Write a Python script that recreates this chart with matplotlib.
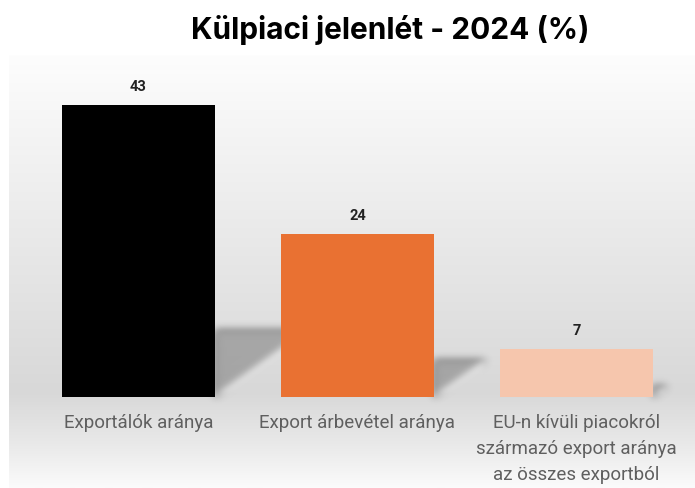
import numpy as np
import matplotlib
matplotlib.use("Agg")
import matplotlib.pyplot as plt
from matplotlib.colors import LinearSegmentedColormap

# adatok
categories = ["Exportálók aránya",
              "Export árbevétel aránya",
              "EU-n kívüli piacokról\nszármazó export aránya\naz összes exportból"]
values = [43, 24, 7]
colors = ["#000000", "#E97132", "#F6C6AD"]

W, H = 695, 488
fig = plt.figure(figsize=(W / 100, H / 100), dpi=100)


def blur(img, dpi, r=4):
    # egyszeru gauss elmosas az arnyekokhoz
    k = np.exp(-0.5 * (np.arange(-3 * r, 3 * r + 1) / r) ** 2)
    k /= k.sum()
    pad = 3 * r
    out = np.pad(img, ((pad, pad), (pad, pad), (0, 0)))
    for c in range(4):
        ch = out[:, :, c]
        ch = np.apply_along_axis(lambda m: np.convolve(m, k, mode="same"), 0, ch)
        ch = np.apply_along_axis(lambda m: np.convolve(m, k, mode="same"), 1, ch)
        out[:, :, c] = ch
    return out, -pad, -pad


# szurke hatter-atmenet
bg = fig.add_axes([9 / W, 0, 1 - 9 / W, (H - 55) / H])
bg.set_axis_off()
grad_cmap = LinearSegmentedColormap.from_list(
    "bg", [(0.0, "#fdfdfd"), (0.25, "#f1f1f1"), (0.55, "#e3e3e3"),
           (0.78, "#d8d8d8"), (0.9, "#e9e9e9"), (1.0, "#fbfbfb")])
bg.imshow(np.linspace(0, 1, 256).reshape(-1, 1), aspect="auto", cmap=grad_cmap,
          extent=[0, 1, 0, 1], origin="upper")
bg.set_xlim(0, 1)
bg.set_ylim(0, 1)

ax = fig.add_axes([9 / W, (H - 397) / H, 1 - 9 / W, (397 - 55) / H])
ax.patch.set_alpha(0)
x = np.arange(len(values))
width = 0.7

# arnyekok
for xi, v in zip(x, values):
    xr = xi + width / 2
    sh = plt.Polygon([(xr, 0), (xr, v * 0.23), (xr + v * 0.01, v * 0.23)],
                     closed=True, color="#8f8f8f", alpha=0.7, lw=0, zorder=1)
    sh.set_agg_filter(blur)
    ax.add_patch(sh)

bars = ax.bar(x, values, width=width, color=colors, zorder=2)
for xi, v in zip(x, values):
    ax.annotate(str(v), (xi, v), xytext=(0, 8), textcoords="offset points",
                ha="center", va="bottom", fontsize=10.5, fontweight="bold",
                color="#222222", family="Roboto")

ax.set_xlim(-0.591, 2.541)
ax.set_ylim(0, 50.37)
ax.set_xticks(x)
ax.set_xticklabels(categories, fontsize=13.5, color="#5f5f5f", family="Roboto")
for lab in ax.get_xticklabels():
    lab.set_linespacing(1.58)
ax.tick_params(axis="x", length=0, pad=12)
ax.set_yticks([])
for s in ax.spines.values():
    s.set_visible(False)

fig.text(390 / W, 1 - 30 / H, "Külpiaci jelenlét - 2024 (%)", ha="center",
         va="center", fontsize=21.5, fontweight="bold", family="Inter")

fig.savefig("out.png", dpi=100)
